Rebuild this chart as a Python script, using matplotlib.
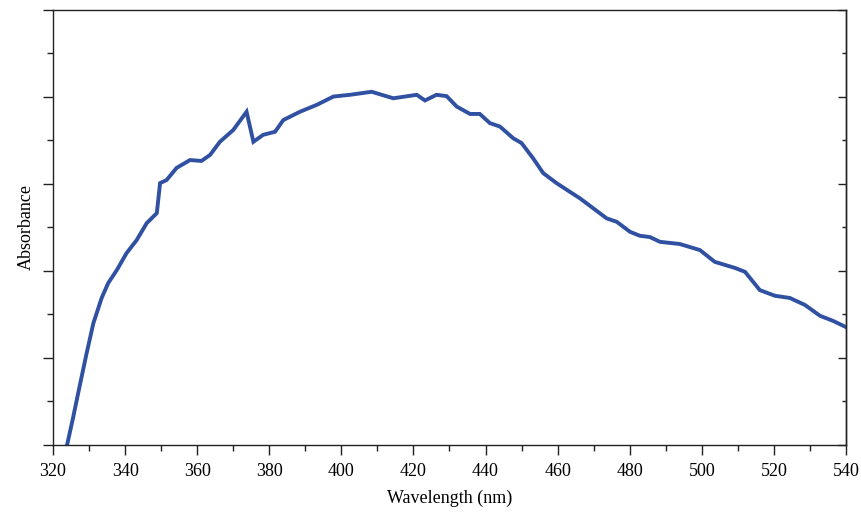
import matplotlib
matplotlib.use("Agg")
from matplotlib import pyplot as plt
from matplotlib.ticker import MultipleLocator

wavelength = [
    323.9, 325.5, 327.0, 329.3, 331.2, 333.5, 335.3, 337.7, 340.4, 343.2,
    346.0, 348.8, 349.7, 351.5, 354.3, 358.0, 361.2, 363.6, 366.3, 370.0,
    373.7, 375.6, 378.3, 381.6, 383.9, 388.5, 393.2, 397.8, 402.4, 408.4,
    414.4, 420.9, 423.2, 426.4, 429.2, 432.0, 435.7, 438.4, 441.2, 444.0,
    447.7, 450.0, 453.2, 456.0, 459.7, 463.4, 466.2, 469.9, 473.6, 476.4,
    480.1, 482.8, 485.6, 488.4, 493.9, 499.5, 503.6, 509.2, 512.0, 516.1,
    520.3, 524.4, 528.6, 532.8, 536.5, 540.0,
]
absorbance = [
    0.000, 0.060, 0.120, 0.210, 0.280, 0.338, 0.372, 0.402, 0.441, 0.471,
    0.510, 0.533, 0.602, 0.609, 0.637, 0.655, 0.653, 0.667, 0.697, 0.724,
    0.766, 0.697, 0.713, 0.720, 0.747, 0.766, 0.782, 0.801, 0.805, 0.812,
    0.797, 0.805, 0.792, 0.805, 0.802, 0.778, 0.761, 0.761, 0.740, 0.732,
    0.705, 0.694, 0.659, 0.625, 0.602, 0.582, 0.567, 0.544, 0.521, 0.513,
    0.490, 0.481, 0.478, 0.467, 0.462, 0.448, 0.421, 0.407, 0.398, 0.356,
    0.343, 0.338, 0.322, 0.297, 0.285, 0.271,
]

plt.rcParams["font.family"] = ["Liberation Serif", "DejaVu Serif"]

fig = plt.figure(figsize=(8.62, 5.12), dpi=100)
ax = fig.add_axes([0.0615, 0.1309, 0.9199, 0.8496])

ax.plot(wavelength, absorbance, color="#3050a2", lw=2.8, solid_joinstyle="miter")

ax.set_xlim(320, 540)
ax.set_ylim(0, 1.0)
ax.xaxis.set_major_locator(MultipleLocator(20))
ax.xaxis.set_minor_locator(MultipleLocator(10))
ax.yaxis.set_major_locator(MultipleLocator(0.2))
ax.yaxis.set_minor_locator(MultipleLocator(0.1))
ax.tick_params(axis="both", which="both", direction="out", width=1.0, color="#222222")
ax.tick_params(axis="both", which="major", length=7, labelsize=13, pad=6)
ax.tick_params(axis="both", which="minor", length=4)
ax.tick_params(axis="y", which="both", labelleft=False)

# right side: inward ticks, no labels
right = ax.secondary_yaxis("right")
right.yaxis.set_major_locator(MultipleLocator(0.2))
right.yaxis.set_minor_locator(MultipleLocator(0.1))
right.tick_params(which="both", direction="in", width=1.0, color="#222222", labelright=False)
right.tick_params(which="major", length=6)
right.tick_params(which="minor", length=3)
right.spines["right"].set_linewidth(1.0)
right.spines["right"].set_color("#222222")

for s in ax.spines.values():
    s.set_linewidth(1.0)
    s.set_color("#222222")

ax.set_xlabel("Wavelength (nm)", fontsize=13, labelpad=7)
ax.set_ylabel("Absorbance", fontsize=13, labelpad=6)

fig.savefig("out.png", dpi=100)
